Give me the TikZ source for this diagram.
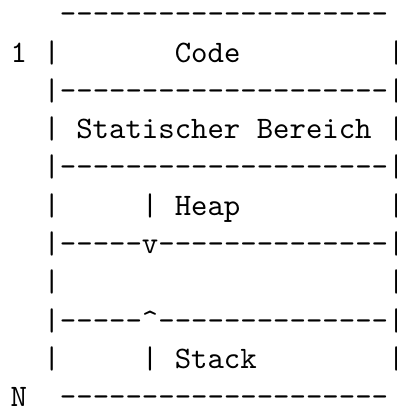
\documentclass[tikz,border=0pt]{standalone}

% a run of n hyphens, kerned apart so no ligature joins them
\newcommand\dashes[1]{\foreach \n in {1,...,#1}{-\kern0pt}}

\begin{document}
\begin{tikzpicture}[x=5.25pt, y=12.26pt, font=\ttfamily\fontsize{10}{12}\selectfont,
        row/.style={anchor=base west, inner sep=0pt}]
        \useasboundingbox (-0.616,0.619) rectangle (23.53,-10.03);
        % address labels
        \node[row] (first) at (0,-1) {1};
        \node[row] (last) at (0,-10) {N};
        % memory layout, one text row per line
        \node[row] (top) at (3,0) {\dashes{20}};
        \node[row] (code) at (2,-1) {|~~~~~~~Code~~~~~~~~~|};
        \node[row] (sepa) at (2,-2) {|\dashes{20}|};
        \node[row] (static) at (2,-3) {|~Statischer~Bereich~|};
        \node[row] (sepb) at (2,-4) {|\dashes{20}|};
        \node[row] (heap) at (2,-5) {|~~~~~|~Heap~~~~~~~~~|};
        \node[row] (heapend) at (2,-6) {|\dashes{5}v\dashes{14}|};
        \node[row] (free) at (2,-7) {|~~~~~~~~~~~~~~~~~~~~|};
        \node[row] (stackend) at (2,-8) {|\dashes{5}\textasciicircum\dashes{14}|};
        \node[row] (stack) at (2,-9) {|~~~~~|~Stack~~~~~~~~|};
        \node[row] (bottom) at (3,-10) {\dashes{20}};
\end{tikzpicture}
\end{document}
